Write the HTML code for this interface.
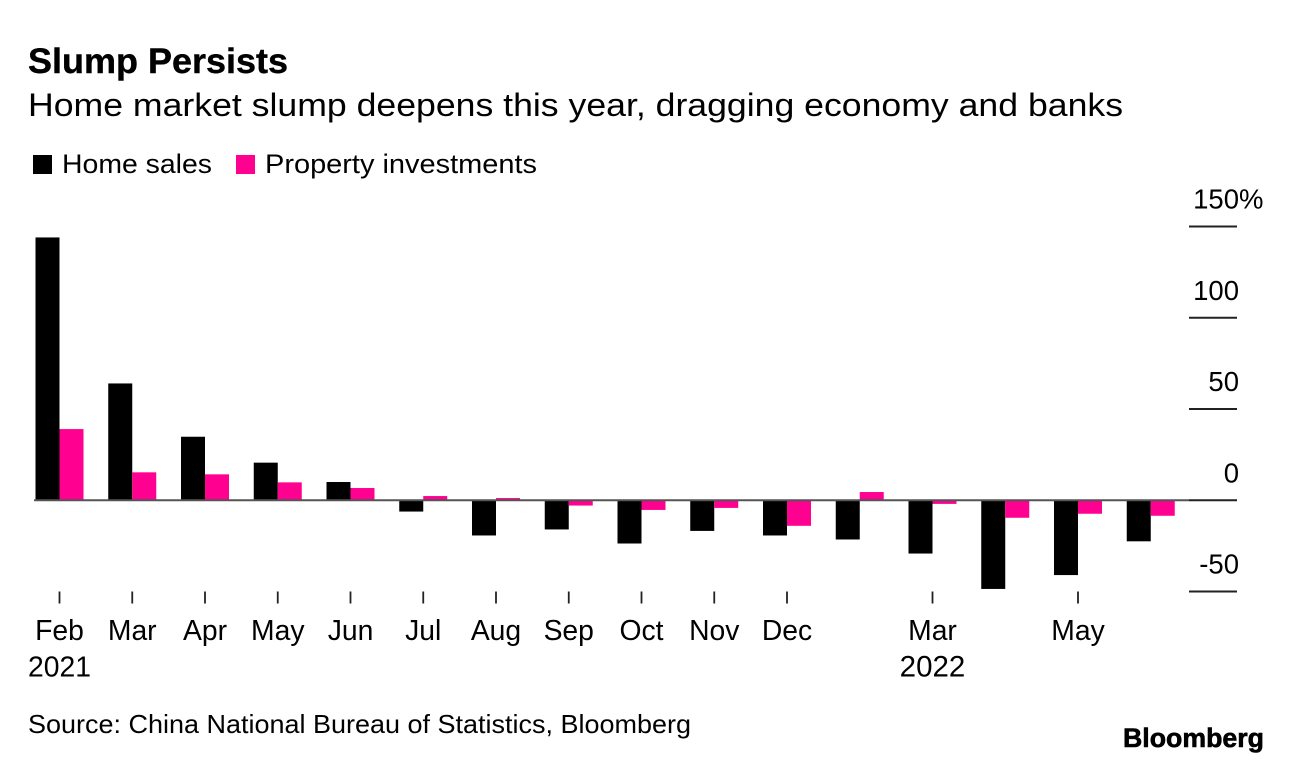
<!DOCTYPE html>
<html>
<head>
<meta charset="utf-8">
<style>
html,body{margin:0;padding:0;background:#fff;}
body{width:1292px;height:764px;overflow:hidden;position:relative;font-family:"Liberation Sans",sans-serif;color:#000;}
svg{position:absolute;left:0;top:0;}
text{font-family:"Liberation Sans",sans-serif;fill:#000;}
</style>
</head>
<body>
<svg id="chart" width="1292" height="764" viewBox="0 0 1292 764">
<text x="28" y="73" font-size="35" font-weight="700" textLength="260" lengthAdjust="spacingAndGlyphs" stroke="#000" stroke-width="0.4">Slump Persists</text>
<text x="28" y="116" font-size="32" textLength="1095" lengthAdjust="spacingAndGlyphs">Home market slump deepens this year, dragging economy and banks</text>
<g>
<rect x="33" y="155" width="19" height="19" fill="#000"></rect>
<text x="62" y="173" font-size="27" textLength="150" lengthAdjust="spacingAndGlyphs">Home sales</text>
<rect x="236" y="155" width="19" height="19" fill="#ff0090"></rect>
<text x="265" y="173" font-size="27" textLength="272" lengthAdjust="spacingAndGlyphs">Property investments</text>
</g>
<g id="bars"></g>
<g id="yaxis"></g>
<g id="xaxis"></g>
<text x="28" y="733" font-size="26" textLength="663" lengthAdjust="spacingAndGlyphs">Source: China National Bureau of Statistics, Bloomberg</text>
<text x="1123" y="747" font-size="27" font-weight="700" textLength="141" lengthAdjust="spacingAndGlyphs" stroke="#000" stroke-width="0.6">Bloomberg</text>
</svg>
<script>
const categories = ["Feb 2021","Mar 2021","Apr 2021","May 2021","Jun 2021","Jul 2021","Aug 2021","Sep 2021","Oct 2021","Nov 2021","Dec 2021","Jan 2022","Mar 2022","Apr 2022","May 2022","Jun 2022"];
const homeSales = [144,64,34.8,20.6,10,-6.2,-19.3,-16,-23.7,-16.8,-19.3,-21.5,-29.2,-48.6,-41,-22.5];
const propertyInvestments = [39,15.3,14.2,9.8,6.7,2.3,1.2,-2.9,-5.3,-4.2,-14,4.5,-2,-9.6,-7.4,-8.5];
const yTickValues = [150,100,50,0,-50];
const yTickLabels = ["150","100","50","0","-50"];
const yTickSuffixes = ["%","","","",""];
const xTickFlags = [1,1,1,1,1,1,1,1,1,1,1,0,1,0,1,0];
const xMonthLabels = ["Feb","Mar","Apr","May","Jun","Jul","Aug","Sep","Oct","Nov","Dec","","Mar","","May",""];
const xYearLabels = ["2021","","","","","","","","","","","","2022","","",""];

const NS = "http://www.w3.org/2000/svg";
const plotTop = 226.5, plotBottom = 591.5, vMax = 150, vMin = -50;
const firstX = 59.5, stepX = 72.75, barW = 24;
const labelRight = 1239;
function yScale(v){ return plotTop + (vMax - v) * (plotBottom - plotTop) / (vMax - vMin); }
function xScale(i){ return firstX + i * stepX; }
function make(tag, attrs, parent, text){
  const el = document.createElementNS(NS, tag);
  for (const k in attrs) el.setAttribute(k, attrs[k]);
  if (text !== undefined) el.textContent = text;
  parent.appendChild(el);
  return el;
}
const barsG = document.getElementById("bars");
const yG = document.getElementById("yaxis");
const xG = document.getElementById("xaxis");

categories.forEach(function(c, i){
  const x = xScale(i), y0 = yScale(0);
  const a = yScale(homeSales[i]);
  const b = yScale(propertyInvestments[i]);
  const r1 = make("rect", {x:x - barW, y:Math.min(a, y0), width:barW, height:Math.abs(a - y0), fill:"#000"}, barsG);
  
  
  const r2 = make("rect", {x:x, y:Math.min(b, y0), width:barW, height:Math.abs(b - y0), fill:"#ff0090"}, barsG);
  
  
  if (xTickFlags[i]) {
    const t = make("line", {x1:x, x2:x, y1:591.5, y2:603.5, stroke:"#222", "stroke-width":1.8}, xG);
    
    
  }
  if (xMonthLabels[i]) {
    const m = make("text", {x:x, y:640, "font-size":28.3, "text-anchor":"middle"}, xG, xMonthLabels[i]);
    
    
  }
  if (xYearLabels[i]) {
    const yr = make("text", {x:x, y:676.5, "font-size":i === 0 ? 28.3 : 29.5, "text-anchor":"middle"}, xG, xYearLabels[i]);
    
    
  }
});

const baseline = make("line", {x1:34, x2:1189, y1:yScale(0), y2:yScale(0), stroke:"#555", "stroke-width":2}, yG);



yTickValues.forEach(function(v, i){
  const y = yScale(v);
  const line = make("line", {x1:1189, x2:1237, y1:y, y2:y, stroke:"#222", "stroke-width":2}, yG);
  
  
  const label = make("text", {x:labelRight, y:y - 18, "font-size":27.5, "text-anchor":"end"}, yG, yTickLabels[i]);
  
  
  if (yTickSuffixes[i]) {
    const suffix = make("text", {x:labelRight, y:y - 18, "font-size":27.5}, yG, yTickSuffixes[i]);
    
    
  }
});
</script>
</body>
</html>
